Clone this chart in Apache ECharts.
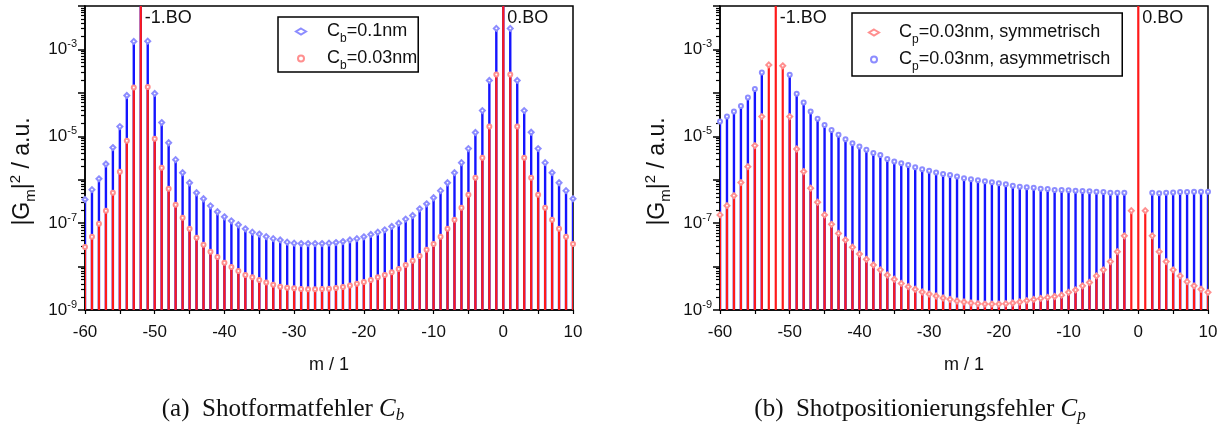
<!DOCTYPE html>
<html>
<head>
<meta charset="utf-8">
<script src="https://cdn.jsdelivr.net/npm/echarts@6/dist/echarts.min.js"></script>
<style>
  html, body { margin: 0; padding: 0; background: #fff; }
  #chart { width: 1227px; height: 425px; }
</style>
</head>
<body>
<div id="chart"></div>
<script>
// Diffraction order index m
const orders = [
  -60, -59, -58, -57, -56, -55, -54, -53, -52, -51,
  -50, -49, -48, -47, -46, -45, -44, -43, -42, -41,
  -40, -39, -38, -37, -36, -35, -34, -33, -32, -31,
  -30, -29, -28, -27, -26, -25, -24, -23, -22, -21,
  -20, -19, -18, -17, -16, -15, -14, -13, -12, -11,
  -10, -9, -8, -7, -6, -5, -4, -3, -2, -1,
  0, 1, 2, 3, 4, 5, 6, 7, 8, 9, 10
];

// (a) shot size error, C_b = 0.1 nm  (|G_m|^2, a.u.)
const cb010 = [
  3.5e-7, 5.9e-7, 1.05e-6, 2.3e-6, 5.5e-6, 1.67e-5, 8.7e-5, 1.53e-3, 1, 1.55e-3,
  9.7e-5, 2.07e-5, 7.1e-6, 2.9e-6, 1.45e-6, 8.5e-7, 5.0e-7, 3.65e-7, 2.5e-7, 1.83e-7,
  1.40e-7, 1.13e-7, 9.2e-8, 7.4e-8, 6.2e-8, 5.6e-8, 4.9e-8, 4.4e-8, 4.1e-8, 3.65e-8,
  3.46e-8, 3.39e-8, 3.39e-8, 3.39e-8, 3.39e-8, 3.46e-8, 3.57e-8, 3.77e-8, 4.1e-8, 4.4e-8,
  4.84e-8, 5.5e-8, 6.2e-8, 7.0e-8, 8.4e-8, 1.0e-7, 1.24e-7, 1.5e-7, 2.14e-7, 2.79e-7,
  3.85e-7, 5.6e-7, 8.5e-7, 1.45e-6, 2.47e-6, 5.2e-6, 1.22e-5, 3.9e-5, 1.93e-4, 3.05e-3,
  1, 3.05e-3, 1.93e-4, 3.9e-5, 1.24e-5, 5.2e-6, 2.47e-6, 1.45e-6, 8.5e-7, 5.6e-7, 3.65e-7
];

// (a) shot size error, C_b = 0.03 nm
const cb003 = [
  2.84e-8, 4.84e-8, 9.7e-8, 1.93e-7, 5.0e-7, 1.53e-6, 7.9e-6, 1.33e-4, 1, 1.37e-4,
  8.8e-6, 1.89e-6, 6.2e-7, 2.65e-7, 1.33e-7, 7.4e-8, 4.6e-8, 3.16e-8, 2.18e-8, 1.67e-8,
  1.22e-8, 9.8e-9, 7.9e-9, 6.4e-9, 5.7e-9, 4.9e-9, 4.3e-9, 3.8e-9, 3.45e-9, 3.27e-9,
  3.16e-9, 3.05e-9, 3.0e-9, 3.0e-9, 3.05e-9, 3.1e-9, 3.22e-9, 3.4e-9, 3.65e-9, 4.0e-9,
  4.4e-9, 4.9e-9, 5.7e-9, 6.4e-9, 7.4e-9, 8.8e-9, 1.09e-8, 1.37e-8, 1.76e-8, 2.43e-8,
  3.33e-8, 4.84e-8, 7.4e-8, 1.19e-7, 2.26e-7, 4.5e-7, 1.11e-6, 3.22e-6, 1.67e-5, 2.65e-4,
  1, 2.65e-4, 1.67e-5, 3.22e-6, 1.11e-6, 4.5e-7, 2.26e-7, 1.2e-7, 7.4e-8, 4.84e-8, 3.33e-8
];

// (b) shot position error, C_p = 0.03 nm, symmetric
const cpSym = [
  1.55e-7, 2.53e-7, 4.3e-7, 8.6e-7, 2.0e-6, 6.1e-6, 2.84e-5, 4.4e-4, 1, 4.2e-4,
  2.84e-5, 5.1e-6, 1.54e-6, 6.4e-7, 3.03e-7, 1.55e-7, 9.4e-8, 5.8e-8, 4.1e-8, 2.79e-8,
  1.95e-8, 1.47e-8, 1.09e-8, 8.4e-9, 6.4e-9, 5.1e-9, 4.1e-9, 3.44e-9, 3.0e-9, 2.6e-9,
  2.34e-9, 2.1e-9, 1.89e-9, 1.76e-9, 1.61e-9, 1.53e-9, 1.45e-9, 1.40e-9, 1.37e-9, 1.37e-9,
  1.37e-9, 1.40e-9, 1.45e-9, 1.53e-9, 1.64e-9, 1.75e-9, 1.85e-9, 1.95e-9, 2.05e-9, 2.2e-9,
  2.55e-9, 2.9e-9, 3.6e-9, 4.3e-9, 6.1e-9, 8.4e-9, 1.3e-8, 2.2e-8, 5.1e-8, 1.94e-7,
  1, 1.94e-7, 5.1e-8, 2.2e-8, 1.3e-8, 8.4e-9, 6.1e-9, 4.5e-9, 3.6e-9, 3.0e-9, 2.55e-9
];

// (b) shot position error, C_p = 0.03 nm, asymmetric (null: hidden behind the symmetric stem)
const cpAsym = [
  2.18e-5, 2.84e-5, 3.71e-5, 5.0e-5, 7.8e-5, 1.22e-4, 2.94e-4, null, null, null,
  2.6e-4, 9.5e-5, 6.0e-5, 3.71e-5, 2.52e-5, 1.83e-5, 1.40e-5, 1.08e-5, 8.6e-6, 6.9e-6,
  5.8e-6, 4.9e-6, 4.1e-6, 3.7e-6, 3.0e-6, 2.61e-6, 2.40e-6, 2.19e-6, 1.94e-6, 1.75e-6,
  1.60e-6, 1.46e-6, 1.36e-6, 1.29e-6, 1.18e-6, 1.08e-6, 1.03e-6, 9.7e-7, 9.2e-7, 8.7e-7,
  8.3e-7, 7.9e-7, 7.3e-7, 6.9e-7, 6.7e-7, 6.5e-7, 6.2e-7, 6.1e-7, 5.8e-7, 5.8e-7,
  5.7e-7, 5.6e-7, 5.5e-7, 5.4e-7, 5.3e-7, 5.2e-7, 5.0e-7, 5.0e-7, 5.0e-7, null,
  null, null, 5.0e-7, 4.9e-7, 5.0e-7, 5.1e-7, 5.2e-7, 5.2e-7, 5.3e-7, 5.3e-7, 5.3e-7
];

// Text written next to the Bragg-order lines
const orderLabels = { '-52': '-1.BO', '0': '0.BO' };

// Legend entries (rich text) and panel captions
const legendText = {
  'Cb=0.1nm': 'C{sub|b}=0.1nm',
  'Cb=0.03nm': 'C{sub|b}=0.03nm',
  'Cp sym': 'C{sub|p}=0.03nm, symmetrisch',
  'Cp asym': 'C{sub|p}=0.03nm, asymmetrisch'
};
const captions = [
  '(a)  Shotformatfehler {it|C}{itsub|b}',
  '(b)  Shotpositionierungsfehler {it|C}{itsub|p}'
];

const Y_MIN = 1e-9, Y_MAX = 1e-2;
const FONT = '"Liberation Sans", Arial, Helvetica, sans-serif';
const SERIF = '"Liberation Serif", "Times New Roman", serif';
const BLUE = '#1414ff', RED = '#ff1a1a';
const BLUE_MK = '#8c8cff', RED_MK = '#ff8f8f';

const chart = echarts.init(document.getElementById('chart'), null, { renderer: 'canvas' });

function xAxisFor(gi) {
  return {
    gridIndex: gi, type: 'value', min: -60, max: 10, interval: 10,
    axisLine: { show: true, onZero: false, lineStyle: { color: '#000', width: 1.5 } },
    axisTick: { show: true, length: 4, lineStyle: { color: '#000', width: 1.2 } },
    minorTick: { show: true, splitNumber: 2, length: 4, lineStyle: { color: '#000', width: 1.2 } },
    splitLine: { show: false },
    axisLabel: { fontSize: 17, color: '#111', fontFamily: FONT, margin: 14 },
    name: 'm / 1', nameLocation: 'middle', nameGap: 46,
    nameTextStyle: { fontSize: 18, color: '#111', fontFamily: FONT }
  };
}

function yAxisFor(gi) {
  return {
    gridIndex: gi, type: 'log', logBase: 10, min: Y_MIN, max: Y_MAX, interval: 1,
    axisLine: { show: true, onZero: false, lineStyle: { color: '#000', width: 1.5 } },
    axisTick: { show: true, length: 7, lineStyle: { color: '#000', width: 1.5 } },
    minorTick: { show: true, splitNumber: 9, length: 4, lineStyle: { color: '#000', width: 1.2 } },
    splitLine: { show: false },
    axisLabel: {
      fontSize: 17, color: '#111', fontFamily: FONT, margin: 8,
      formatter: function (v) {
        const e = Math.round(Math.log10(v));
        return (e % 2 !== 0) ? '10{sup|' + e + '}' : '';
      },
      rich: {
        sup: { fontSize: 11, lineHeight: 11, verticalAlign: 'top', color: '#111', fontFamily: FONT }
      },
      lineHeight: 22
    },
    name: '|G{sub|m}|{sup|2} / a.u.', nameLocation: 'middle', nameGap: 47,
    nameTextStyle: {
      fontSize: 23, color: '#111', fontFamily: FONT, lineHeight: 30, padding: [0, 27, 0, 0],
      rich: {
        sub: { fontSize: 15, lineHeight: 10, verticalAlign: 'bottom', color: '#111', fontFamily: FONT },
        sup: { fontSize: 15, lineHeight: 13, verticalAlign: 'top', color: '#111', fontFamily: FONT }
      }
    }
  };
}

// Vertical stems from the bottom of the axis up to each value
function stemSeries(gi, name, values, color, width, withOrderLabels) {
  return {
    type: 'custom', name: name, xAxisIndex: gi, yAxisIndex: gi, clip: true, silent: true,
    data: orders.map((x, i) => [x, values[i]]).filter(d => d[1] != null),
    renderItem: function (params, api) {
      const x = api.value(0), v = api.value(1);
      const cs = params.coordSys;
      const p = api.coord([x, v]);
      const base = api.coord([x, Y_MIN])[1];
      const topY = Math.max(p[1], cs.y);
      const children = [{
        type: 'line',
        shape: { x1: p[0], y1: base, x2: p[0], y2: topY },
        style: { stroke: color, lineWidth: width }
      }];
      const lab = withOrderLabels ? orderLabels[String(x)] : null;
      if (lab && p[1] <= cs.y) {
        children.push({
          type: 'text', x: p[0] + 4, y: cs.y + 12,
          style: { text: lab, fill: '#111', font: '18px ' + FONT, align: 'left', verticalAlign: 'middle' }
        });
      }
      return { type: 'group', children: children };
    }
  };
}

function markerSeries(gi, name, values, color, symbol, size) {
  return {
    type: 'scatter', name: name, xAxisIndex: gi, yAxisIndex: gi, clip: true, silent: true,
    data: orders.map((x, i) => [x, values[i]]).filter(d => d[1] != null),
    symbol: symbol, symbolSize: size,
    itemStyle: { color: color, borderWidth: 1, opacity: 1 }
  };
}

function legendFor(names, left, top, padding, textPad) {
  return {
    orient: 'vertical', left: left, top: top, data: names,
    itemWidth: 10, itemHeight: 6, itemGap: 0, padding: padding, symbolKeepAspect: true,
    borderColor: '#000', borderWidth: 1.5, backgroundColor: '#fff', selectedMode: false,
    formatter: function (n) { return legendText[n]; },
    textStyle: {
      fontSize: 18, color: '#111', fontFamily: FONT, lineHeight: 27, padding: [0, 0, 0, textPad],
      rich: { sub: { fontSize: 12, lineHeight: 9, verticalAlign: 'bottom', color: '#111', fontFamily: FONT } }
    }
  };
}

function captionText(i, cx) {
  return {
    type: 'text', x: cx, y: 409,
    style: {
      text: captions[i], fill: '#111', font: '25px ' + SERIF, align: 'center', verticalAlign: 'middle',
      rich: {
        it: { fontStyle: 'italic', fontSize: 25, fontFamily: SERIF, fill: '#111', lineHeight: 30 },
        itsub: { fontStyle: 'italic', fontSize: 17, fontFamily: SERIF, fill: '#111', lineHeight: 18, verticalAlign: 'bottom' }
      }
    }
  };
}

const option = {
  animation: false,
  backgroundColor: '#fff',
  grid: [
    { left: 85, top: 6, width: 488, height: 304, show: true, borderColor: '#000', borderWidth: 1.5, backgroundColor: 'transparent' },
    { left: 720, top: 6, width: 488, height: 304, show: true, borderColor: '#000', borderWidth: 1.5, backgroundColor: 'transparent' }
  ],
  xAxis: [xAxisFor(0), xAxisFor(1)],
  yAxis: [yAxisFor(0), yAxisFor(1)],
  legend: [
    legendFor(['Cb=0.1nm', 'Cb=0.03nm'], 278, 17, [1, 1, 0, 17], 16),
    legendFor(['Cp sym', 'Cp asym'], 852, 13, [6, 12, 3, 16], 15)
  ],
  graphic: [captionText(0, 283), captionText(1, 920)],
  series: [
    stemSeries(0, 'stem-b010', cb010, BLUE, 2.4, false),
    stemSeries(0, 'stem-b003', cb003, RED, 2.2, true),
    markerSeries(0, 'Cb=0.1nm', cb010, BLUE_MK, 'emptyDiamond', 5),
    markerSeries(0, 'Cb=0.03nm', cb003, RED_MK, 'emptyCircle', 4),

    stemSeries(1, 'stem-pasym', cpAsym, BLUE, 2.4, false),
    stemSeries(1, 'stem-psym', cpSym, RED, 2.2, true),
    markerSeries(1, 'Cp sym', cpSym, RED_MK, 'emptyDiamond', 5),
    markerSeries(1, 'Cp asym', cpAsym, BLUE_MK, 'emptyCircle', 4)
  ]
};

chart.setOption(option);
</script>
</body>
</html>
